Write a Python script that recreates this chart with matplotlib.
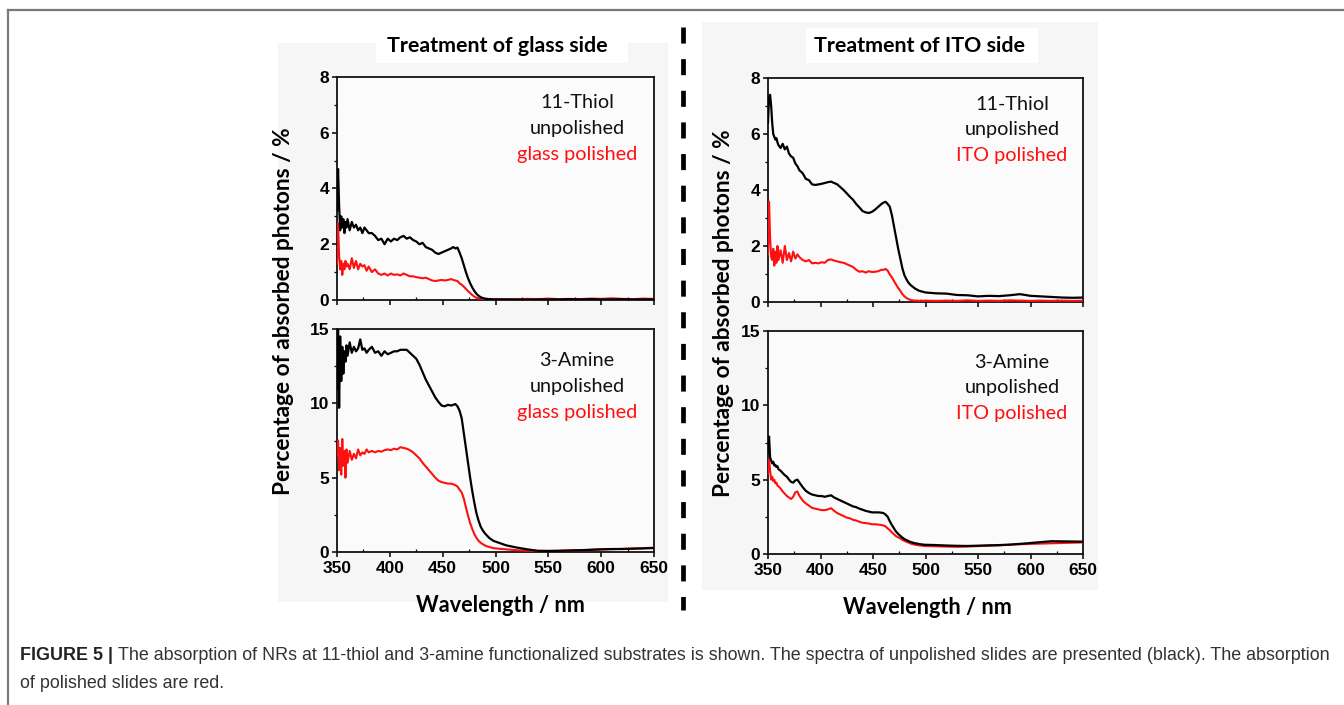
import matplotlib
matplotlib.use("Agg")
import matplotlib.pyplot as plt
from matplotlib.patches import Rectangle
from matplotlib.lines import Line2D
from matplotlib.ticker import MultipleLocator

# ---------------- data ----------------
wavelength = [350, 351, 352, 353, 354, 355, 356, 357, 358, 359, 360,
              362, 364, 366, 368, 370, 372, 374, 376, 378, 380,
              383, 386, 389, 392, 395, 398, 401, 404, 407, 410, 413, 416, 419, 422, 425,
              428, 431, 434, 437, 440, 443, 446, 449, 452, 455, 458,
              460, 462, 464, 466, 468, 470, 472, 474, 476, 478, 480, 482, 484, 486, 488,
              490, 492, 494, 496, 498, 500,
              510, 520, 530, 540, 550, 560, 570, 580, 590, 600, 610, 620, 630, 640, 650]

glass_thiol_unpolished = [3.2, 4.7, 3.4, 2.5, 3.0, 2.6, 2.9, 2.4, 2.8, 2.6, 2.9,
                          2.5, 2.8, 2.6, 2.7, 2.5, 2.6, 2.4, 2.6, 2.5, 2.4,
                          2.4, 2.3, 2.15, 2.2, 2.0, 2.2, 2.1, 2.2, 2.15, 2.25, 2.3, 2.2, 2.25, 2.15, 2.1,
                          2.0, 2.05, 1.9, 1.85, 1.8, 1.7, 1.65, 1.7, 1.75, 1.8, 1.85,
                          1.9, 1.85, 1.88, 1.7, 1.5, 1.25, 1.0, 0.78, 0.6, 0.45, 0.32, 0.22, 0.15, 0.1, 0.07,
                          0.05, 0.04, 0.03, 0.03, 0.02, 0.02,
                          0.02, 0.02, 0.01, 0.02, 0.02, 0.02, 0.03, 0.02, 0.03, 0.02, 0.02, 0.03, 0.02, 0.02, 0.02]
glass_thiol_polished = [1.3, 2.75, 1.6, 1.1, 1.4, 0.9, 1.3, 1.1, 1.4, 1.2, 1.3,
                        1.1, 1.5, 1.15, 1.4, 1.1, 1.3, 1.2, 1.25, 1.05, 1.2,
                        1.0, 1.1, 0.95, 0.9, 0.95, 0.88, 0.95, 0.9, 0.92, 0.88, 0.95, 0.9, 0.85, 0.85, 0.82,
                        0.8, 0.78, 0.8, 0.75, 0.7, 0.68, 0.7, 0.72, 0.7, 0.72, 0.75,
                        0.72, 0.7, 0.68, 0.6, 0.55, 0.48, 0.4, 0.32, 0.25, 0.18, 0.12, 0.08, 0.06, 0.05, 0.04,
                        0.03, 0.03, 0.02, 0.03, 0.02, 0.03,
                        0.03, 0.02, 0.04, 0.03, 0.05, 0.03, 0.04, 0.03, 0.05, 0.04, 0.06, 0.04, 0.03, 0.05, 0.04]

glass_amine_unpolished = [11.0, 15.0, 9.7, 14.5, 11.5, 13.8, 12.0, 13.5, 12.8, 13.9, 13.2,
                          14.1, 13.4, 13.8, 13.5, 13.7, 14.3, 13.6, 13.7, 13.4, 13.6,
                          13.8, 13.4, 13.5, 13.2, 13.5, 13.3, 13.4, 13.5, 13.5, 13.6, 13.6, 13.6, 13.4, 13.2, 13.0,
                          12.6, 12.1, 11.6, 11.2, 10.8, 10.4, 10.1, 9.85, 9.8, 9.9, 9.85,
                          9.9, 9.95, 9.8, 9.5, 9.0, 8.0, 7.0, 6.0, 5.0, 4.1, 3.3, 2.6, 2.1, 1.7, 1.45,
                          1.25, 1.1, 0.95, 0.85, 0.75, 0.7,
                          0.45, 0.3, 0.18, 0.08, 0.07, 0.08, 0.1, 0.12, 0.15, 0.18, 0.2, 0.2, 0.22, 0.24, 0.27]
glass_amine_polished = [6.5, 7.5, 5.5, 7.0, 5.2, 7.6, 5.8, 6.8, 5.0, 6.9, 6.0,
                        6.8, 6.2, 6.6, 6.3, 6.9, 6.5, 6.7, 6.6, 6.9, 6.7,
                        6.8, 6.7, 6.8, 6.75, 6.85, 6.9, 6.85, 6.95, 6.9, 7.05, 7.0, 6.95, 6.85, 6.7, 6.5,
                        6.3, 6.0, 5.75, 5.5, 5.25, 5.0, 4.8, 4.7, 4.65, 4.6, 4.6,
                        4.55, 4.5, 4.4, 4.2, 4.0, 3.6, 3.0, 2.45, 1.95, 1.55, 1.2, 0.95, 0.75, 0.62, 0.52,
                        0.44, 0.38, 0.34, 0.3, 0.26, 0.24,
                        0.18, 0.12, 0.09, 0.07, 0.07, 0.08, 0.1, 0.12, 0.14, 0.17, 0.19, 0.21, 0.24, 0.26, 0.29]

ito_thiol_unpolished = [6.4, 7.3, 7.4, 7.0, 6.4, 6.0, 5.9, 5.8, 5.85, 5.7, 5.6,
                        5.5, 5.65, 5.45, 5.55, 5.3, 5.2, 5.15, 4.95, 4.85, 4.7,
                        4.6, 4.4, 4.35, 4.2, 4.18, 4.2, 4.22, 4.25, 4.28, 4.3, 4.25, 4.2, 4.1, 4.0, 3.88,
                        3.76, 3.65, 3.5, 3.38, 3.25, 3.2, 3.18, 3.22, 3.3, 3.4, 3.5,
                        3.55, 3.58, 3.5, 3.4, 3.1, 2.7, 2.3, 1.9, 1.55, 1.2, 0.95, 0.8, 0.68, 0.6, 0.54,
                        0.48, 0.44, 0.4, 0.38, 0.36, 0.34,
                        0.31, 0.3, 0.25, 0.24, 0.2, 0.22, 0.21, 0.24, 0.28, 0.22, 0.2, 0.18, 0.16, 0.15, 0.16]
ito_thiol_polished = [1.7, 3.58, 2.3, 1.6, 1.5, 1.9, 1.3, 1.8, 1.4, 2.0, 1.5,
                      1.85, 1.4, 2.0, 1.5, 1.75, 1.45, 1.8, 1.55, 1.7, 1.6,
                      1.5, 1.45, 1.5, 1.38, 1.4, 1.38, 1.42, 1.4, 1.5, 1.52, 1.48, 1.45, 1.42, 1.4, 1.35,
                      1.3, 1.25, 1.15, 1.08, 1.1, 1.05, 1.1, 1.07, 1.08, 1.1, 1.15,
                      1.15, 1.18, 1.12, 0.98, 0.88, 0.75, 0.62, 0.5, 0.4, 0.28, 0.2, 0.14, 0.1, 0.07, 0.06,
                      0.05, 0.05, 0.04, 0.05, 0.04, 0.05,
                      0.04, 0.05, 0.04, 0.06, 0.04, 0.05, 0.04, 0.06, 0.05, 0.04, 0.05, 0.04, 0.05, 0.04, 0.05]

ito_amine_unpolished = [6.8, 7.9, 6.5, 6.3, 6.1, 6.2, 5.95, 6.0, 5.85, 5.9, 5.7,
                        5.6, 5.45, 5.3, 5.2, 5.0, 4.85, 4.8, 4.95, 5.0, 4.8,
                        4.5, 4.25, 4.1, 4.0, 3.95, 3.9, 3.9, 3.85, 3.9, 3.95, 3.8, 3.7, 3.6, 3.5, 3.4,
                        3.3, 3.2, 3.15, 3.05, 2.98, 2.9, 2.85, 2.8, 2.8, 2.8, 2.78,
                        2.75, 2.65, 2.5, 2.2, 1.95, 1.72, 1.5, 1.35, 1.22, 1.1, 1.0, 0.93, 0.86, 0.8, 0.76,
                        0.72, 0.7, 0.67, 0.65, 0.63, 0.62,
                        0.6, 0.57, 0.55, 0.54, 0.56, 0.58, 0.6, 0.63, 0.68, 0.74, 0.8, 0.86, 0.85, 0.84, 0.83]
ito_amine_polished = [5.4, 6.4, 5.6, 5.0, 5.2, 4.9, 5.0, 4.75, 4.8, 4.6, 4.55,
                      4.4, 4.2, 4.05, 3.9, 3.8, 3.7, 3.85, 4.15, 4.2, 3.9,
                      3.6, 3.4, 3.25, 3.1, 3.05, 3.0, 2.95, 2.95, 3.0, 3.08, 2.9, 2.75, 2.65, 2.55, 2.45,
                      2.4, 2.3, 2.25, 2.17, 2.1, 2.08, 2.05, 2.0, 2.0, 1.98, 1.95,
                      1.92, 1.85, 1.72, 1.6, 1.45, 1.32, 1.2, 1.12, 1.05, 0.95, 0.88, 0.82, 0.76, 0.7, 0.66,
                      0.63, 0.6, 0.58, 0.57, 0.55, 0.54,
                      0.52, 0.5, 0.48, 0.5, 0.53, 0.56, 0.58, 0.62, 0.66, 0.68, 0.7, 0.72, 0.74, 0.76, 0.78]

column_titles = ["Treatment of glass side", "Treatment of ITO side"]
molecule_names = ["11-Thiol", "3-Amine"]
unpolished_label = "unpolished"
polished_labels = ["glass polished", "ITO polished"]
x_ticks = [350, 400, 450, 500, 550, 600, 650]
y_ticks_top = [0, 2, 4, 6, 8]
y_ticks_bottom = [0, 5, 10, 15]
x_label = "Wavelength / nm"
y_label = "Percentage of absorbed photons / %"
caption_head = "FIGURE 5 |"
caption_line1 = ("The absorption of NRs at 11-thiol and 3-amine functionalized substrates is shown. "
                 "The spectra of unpolished slides are presented (black). The absorption")
caption_line2 = "of polished slides are red."

# ---------------- layout ----------------
W, H = 1344, 705
fig = plt.figure(figsize=(W / 100, H / 100), dpi=100)
fig.patch.set_facecolor("white")

def fx(x):
    return x / W

def fy(y):
    return 1 - y / H

def rect_px(x0, y0, x1, y1, color, z=-5):
    r = Rectangle((fx(x0), fy(y1)), fx(x1) - fx(x0), fy(y0) - fy(y1),
                  transform=fig.transFigure, facecolor=color, edgecolor="none", zorder=z)
    fig.patches.append(r)

# pasted-image light backgrounds
BG = "#f6f6f6"
rect_px(278, 43, 668, 602, BG, z=-5)
rect_px(376, 27, 628, 63, "white", z=-4)
rect_px(702, 22, 1098, 590, BG, z=-5)
rect_px(806, 28, 1038, 63, "white", z=-4)

# figure frame (top and left)
fig.add_artist(Line2D([fx(8), fx(1344)], [fy(10), fy(10)], transform=fig.transFigure,
                      color="#7a7a7a", lw=1.6))
fig.add_artist(Line2D([fx(8), fx(8)], [fy(10), fy(705)], transform=fig.transFigure,
                      color="#7a7a7a", lw=1.6))

# dashed separator
fig.add_artist(Line2D([fx(683), fx(683)], [fy(27), fy(610)], transform=fig.transFigure,
                      color="black", lw=3.4, linestyle=(0, (3.4, 3.3))))

TITLE_FONT = ["Lato", "DejaVu Sans"]
TICK_FONT = ["Liberation Sans", "DejaVu Sans"]

panels = [
    # (left, top, right, bottom) px, black series, red series, ylim, yticks, col, row
    ((337, 77, 654, 300), glass_thiol_unpolished, glass_thiol_polished, 8, y_ticks_top, 0, 0),
    ((337, 329, 654, 552), glass_amine_unpolished, glass_amine_polished, 15, y_ticks_bottom, 0, 1),
    ((768, 78, 1083, 302), ito_thiol_unpolished, ito_thiol_polished, 8, y_ticks_top, 1, 0),
    ((768, 331, 1083, 554), ito_amine_unpolished, ito_amine_polished, 15, y_ticks_bottom, 1, 1),
]

RED = "#ff1010"
for (l, t, r, b), blk, red, ymax, yt, col, row in panels:
    ax = fig.add_axes([fx(l), fy(b), fx(r) - fx(l), fy(t) - fy(b)])
    ax.set_facecolor("#fbfbfb")
    ax.plot(wavelength, red, color=RED, lw=1.5, zorder=3)
    ax.plot(wavelength, blk, color="black", lw=1.6, zorder=4)
    ax.set_xlim(350, 650)
    ax.set_ylim(0, ymax)
    ax.set_yticks(yt)
    ax.yaxis.set_minor_locator(MultipleLocator(yt[1] / 2))
    ax.xaxis.set_minor_locator(MultipleLocator(25))
    ax.set_xticks(x_ticks)
    if row == 0:
        ax.tick_params(axis="x", labelbottom=False)
    for s in ax.spines.values():
        s.set_linewidth(1.3)
        s.set_color("#111111")
    ax.tick_params(axis="both", which="major", direction="out", length=3.5, width=1.1,
                   labelsize=12.5, pad=2)
    ax.tick_params(axis="x", which="major", pad=3)
    ax.tick_params(axis="both", which="minor", direction="out", length=2.5, width=0.9)
    ax.tick_params(axis="x", which="minor", direction="in")
    for lab in ax.get_xticklabels() + ax.get_yticklabels():
        lab.set_fontweight("bold")
        lab.set_family(TICK_FONT)
    # annotation
    cx = 577 if col == 0 else 1012
    y0 = 103 if row == 0 else 361
    if col == 1:
        y0 += 1
    fig.text(fx(cx), fy(y0), molecule_names[row], ha="center", va="center",
             fontsize=14.3, family=TITLE_FONT, color="#111111")
    fig.text(fx(cx), fy(y0 + 25.5), unpolished_label, ha="center", va="center",
             fontsize=14.3, family=TITLE_FONT, color="#111111")
    fig.text(fx(cx), fy(y0 + 51.5), polished_labels[col], ha="center", va="center",
             fontsize=14.3, family=TITLE_FONT, color=RED)

# column titles
fig.text(fx(497), fy(46), column_titles[0], ha="center", va="center", fontsize=15.4,
         fontweight="bold", family=TITLE_FONT)
fig.text(fx(919), fy(46), column_titles[1], ha="center", va="center", fontsize=15.4,
         fontweight="bold", family=TITLE_FONT)

# axis labels
fig.text(fx(283), fy(311), y_label, rotation=90, ha="center", va="center", fontsize=16.3,
         fontweight="bold", family=TITLE_FONT)
fig.text(fx(724), fy(313), y_label, rotation=90, ha="center", va="center", fontsize=16.3,
         fontweight="bold", family=TITLE_FONT)
fig.text(fx(500), fy(605), x_label, ha="center", va="center", fontsize=15.6,
         fontweight="bold", family=TITLE_FONT)
fig.text(fx(927), fy(607), x_label, ha="center", va="center", fontsize=15.6,
         fontweight="bold", family=TITLE_FONT)

# caption
cap_head = fig.text(fx(20), fy(655), caption_head, ha="left", va="center", fontsize=12.9,
                    fontweight="bold", family=TICK_FONT, color="#222222")
fig.canvas.draw()
bb = cap_head.get_window_extent()
fig.text(bb.x1 / W + fx(5), fy(655), caption_line1, ha="left", va="center", fontsize=12.9,
         family=TICK_FONT, color="#333333")
fig.text(fx(20), fy(684), caption_line2, ha="left", va="center", fontsize=12.9,
         family=TICK_FONT, color="#333333")

fig.savefig("out.png", dpi=100)
